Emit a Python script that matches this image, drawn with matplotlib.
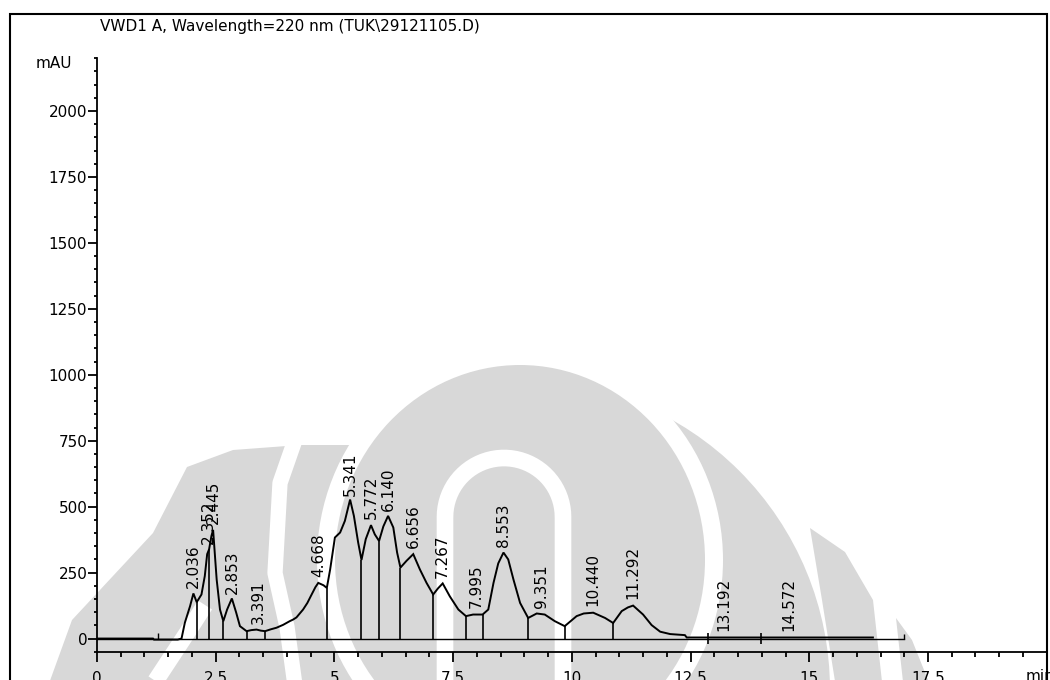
import numpy as np
import matplotlib
matplotlib.use("Agg")
import matplotlib.pyplot as plt
from matplotlib.ticker import MultipleLocator
from matplotlib.patches import Rectangle, Ellipse, Wedge, Polygon

plt.rcParams['font.family'] = ['DejaVu Sans']

# Detector trace (retention time in min, absorbance in mAU)
time_min = [0.0, 1.18, 1.20, 1.70, 1.78, 1.85, 1.96, 2.03, 2.10, 2.20, 2.27, 2.32,
            2.36, 2.41, 2.445, 2.52, 2.59, 2.66, 2.74, 2.84, 2.93, 3.01, 3.15,
            3.25, 3.36, 3.45, 3.54, 3.66, 3.78, 3.92, 4.06, 4.13, 4.20, 4.34,
            4.43, 4.52, 4.60, 4.66, 4.77, 4.84, 4.91, 5.01, 5.12, 5.22, 5.33,
            5.41, 5.50, 5.57, 5.66, 5.77, 5.85, 5.94, 6.03, 6.13, 6.24, 6.32,
            6.39, 6.52, 6.66, 6.80, 6.94, 7.08, 7.18, 7.28, 7.43, 7.61, 7.77,
            7.92, 8.12, 8.24, 8.35, 8.45, 8.56, 8.66, 8.77, 8.91, 9.08, 9.26,
            9.43, 9.64, 9.85, 10.10, 10.25, 10.45, 10.70, 10.87, 11.05, 11.18,
            11.29, 11.50, 11.68, 11.86, 12.07, 12.38, 12.42, 16.34]
signal_mau = [0, 0, -4, -4, 0, 60, 123, 171, 138, 167, 237, 320,
              338, 389, 412, 224, 110, 66, 110, 152, 99, 47, 28,
              32, 34, 30, 28, 35, 41, 52, 66, 72, 80, 110,
              135, 167, 195, 211, 202, 192, 262, 383, 402, 446, 527,
              465, 364, 298, 377, 430, 395, 370, 425, 465, 421, 326,
              269, 295, 320, 262, 211, 167, 190, 209, 160, 110, 85,
              91, 91, 110, 211, 285, 326, 300, 224, 135, 78, 95,
              91, 66, 47, 85, 95, 98, 78, 59, 104, 118,
              125, 91, 51, 26, 17, 13, 4, 4]

# Integration boundaries (drop lines) and event marks
drop_times = [2.10, 2.36, 2.66, 3.16, 3.54, 4.84, 5.57, 5.94, 6.39, 7.08,
              7.77, 8.13, 9.08, 9.85, 10.87]
event_marks = [12.87, 13.98]
start_mark = 1.29
end_time = 17.0

# Peak retention times
peak_times = [2.036, 2.352, 2.445, 2.853, 3.391, 4.668, 5.341, 5.772, 6.140,
              6.656, 7.267, 7.995, 8.553, 9.351, 10.440, 11.292, 13.192, 14.572]
peak_labels = ["2.036", "2.352", "2.445", "2.853", "3.391", "4.668", "5.341",
               "5.772", "6.140", "6.656", "7.267", "7.995", "8.553", "9.351",
               "10.440", "11.292", "13.192", "14.572"]

x_major = [0, 2.5, 5, 7.5, 10, 12.5, 15, 17.5, 20]
x_major_labels = ["0", "2.5", "5", "7.5", "10", "12.5", "15", "17.5", ""]
y_major = [0, 250, 500, 750, 1000, 1250, 1500, 1750, 2000]

W, H = 1050, 680
fig = plt.figure(figsize=(W / 100, H / 100), dpi=100)
fig.patch.set_facecolor("white")

# --- faint page watermark behind the plot (pixel units, y downwards) ---
WM = "#d8d8d8"
bg = fig.add_axes([0, 0, 1, 1], zorder=0)
bg.set_xlim(0, W)
bg.set_ylim(H, 0)
bg.axis("off")
bg.add_patch(Polygon([(43, 700), (72, 620), (153, 533), (187, 467), (233, 450),
                      (300, 445), (420, 445), (420, 700)], closed=True,
                     facecolor=WM, edgecolor="none"))
bg.add_patch(Wedge((520, 690), 310, -90, 90, facecolor=WM, edgecolor="none"))
bg.add_patch(Polygon([(810, 528), (845, 552), (873, 600), (884, 700),
                      (838, 700), (822, 600)], closed=True,
                     facecolor=WM, edgecolor="none"))
bg.add_patch(Polygon([(896, 618), (912, 640), (936, 700), (905, 700)],
                     closed=True, facecolor=WM, edgecolor="none"))
bg.add_patch(Ellipse((520, 560), 406, 426, facecolor="white", edgecolor="none"))
bg.plot([295, 280, 275, 287, 297], [440, 483, 573, 627, 700], color="white",
        lw=11, solid_capstyle="butt")
bg.plot([205, 187, 143], [605, 633, 700], color="white", lw=12,
        solid_capstyle="butt")
bg.add_patch(Ellipse((520, 560), 370, 390, facecolor=WM, edgecolor="none"))
u_arc = np.linspace(np.pi, 0, 40)
u_x = np.concatenate([[445], 504 + 59 * np.cos(u_arc), [563]])
u_y = np.concatenate([[700], 517 - 59 * np.sin(u_arc), [700]])
bg.plot(u_x, u_y, color="white", lw=12, solid_capstyle="butt")

ax = fig.add_axes([97 / W, 28 / H, (1046.7 - 97) / W, (652 - 58.25) / H],
                  zorder=1)
ax.set_facecolor("none")
ax.set_xlim(0, 20)
ax.set_ylim(-51, 2200)

for side in ("top", "right"):
    ax.spines[side].set_visible(False)
for side in ("left", "bottom"):
    ax.spines[side].set_linewidth(1.3)
    ax.spines[side].set_color("black")

ax.set_xticks(x_major)
ax.set_xticklabels(x_major_labels)
ax.set_yticks(y_major)
ax.set_yticklabels([str(v) for v in y_major])
ax.xaxis.set_minor_locator(MultipleLocator(0.5))
ax.yaxis.set_minor_locator(MultipleLocator(50))
ax.tick_params(axis="x", which="major", direction="out", length=7, width=1.3,
               pad=7, labelsize=11)
ax.tick_params(axis="x", which="minor", direction="out", length=3.5, width=1.3)
ax.tick_params(axis="y", which="major", direction="out", length=6.5, width=1.3,
               pad=0.5, labelsize=11)
ax.tick_params(axis="y", which="minor", direction="out", length=2.5, width=1.3)

# zero baseline with start / end marks
ax.plot([0, end_time], [0, 0], color="black", lw=1.0, zorder=3)
ax.vlines([end_time], 0, 18, color="black", lw=1.0, zorder=3)
ax.vlines([start_mark], 0, 22, color="black", lw=1.0, zorder=3)
ax.vlines(event_marks, -20, 20, color="black", lw=1.2, zorder=3)

# chromatogram trace
ax.plot(time_min, signal_mau, color="black", lw=1.4, zorder=4,
        solid_joinstyle="miter")

# drop lines from baseline to the trace
drop_h = np.interp(drop_times, time_min, signal_mau)
ax.vlines(drop_times, 0, drop_h, color="black", lw=1.2, zorder=3)

# retention time annotations
peak_h = np.interp(peak_times, time_min, signal_mau)
for rt, h, lab in zip(peak_times, peak_h, peak_labels):
    ax.annotate(lab, xy=(rt, h), xytext=(0, 4.5), textcoords="offset points",
                rotation=90, ha="center", va="bottom", fontsize=11, zorder=5)

# unit label at the end of the time axis
ax.annotate("min", xy=(19.86, -51), xytext=(0, -12.2), textcoords="offset points",
            ha="center", va="top", fontsize=11, annotation_clip=False)

fig.text(100 / W, 1 - 27 / H, r"VWD1 A, Wavelength=220 nm (TUK\29121105.D)",
         ha="left", va="center", fontsize=11, zorder=3)
fig.text(54 / W, 1 - 63 / H, "mAU", ha="center", va="center", fontsize=11,
         zorder=3)

# outer frame
fig.add_artist(Rectangle((10 / W, -0.1), (1047 - 10) / W, 1.1 - 14 / H,
                         transform=fig.transFigure, fill=False,
                         edgecolor="black", lw=1.5, zorder=5))

fig.savefig("out.png", dpi=100)
